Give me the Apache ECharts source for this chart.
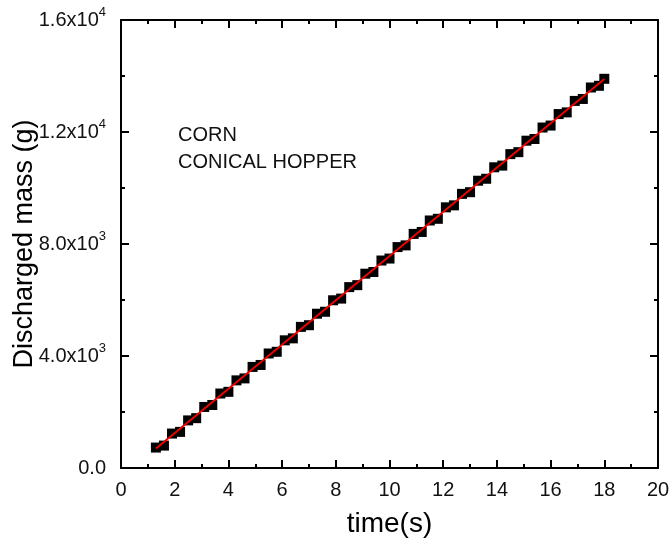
<!DOCTYPE html>
<html>
<head>
<meta charset="utf-8">
<script src="https://cdn.jsdelivr.net/npm/echarts@6/dist/echarts.min.js"></script>
<style>
  html, body { margin: 0; padding: 0; background: #fff; }
  #chart { width: 671px; height: 543px; }
</style>
</head>
<body>
<div id="chart"></div>
<script>
// measured points (time s, discharged mass g)
const timeVals = [1.3, 1.6, 1.9, 2.2, 2.5, 2.8, 3.1, 3.4, 3.7, 4.0, 4.3, 4.6, 4.9, 5.2, 5.5, 5.8,
  6.1, 6.4, 6.7, 7.0, 7.3, 7.6, 7.9, 8.2, 8.5, 8.8, 9.1, 9.4, 9.7, 10.0, 10.3, 10.6, 10.9, 11.2,
  11.5, 11.8, 12.1, 12.4, 12.7, 13.0, 13.3, 13.6, 13.9, 14.2, 14.5, 14.8, 15.1, 15.4, 15.7, 16.0,
  16.3, 16.6, 16.9, 17.2, 17.5, 17.8, 18.0];
const massVals = [730, 800, 1230, 1290, 1700, 1780, 2180, 2250, 2660, 2720, 3130, 3200, 3610, 3680,
  4090, 4150, 4560, 4630, 5040, 5100, 5510, 5580, 5990, 6050, 6460, 6530, 6940, 7000, 7410, 7480,
  7890, 7950, 8360, 8430, 8840, 8900, 9310, 9380, 9790, 9850, 10260, 10330, 10740, 10800, 11210,
  11280, 11690, 11750, 12160, 12230, 12640, 12700, 13110, 13180, 13590, 13650, 13900];

// linear fit end points
const fitTime = [1.3, 18.0];
const fitMass = [700, 13893];

// y tick labels
const yTickLabels = {
  0: '0.0',
  4000: '4.0x10{sup|3}',
  8000: '8.0x10{sup|3}',
  12000: '1.2x10{sup|4}',
  16000: '1.6x10{sup|4}'
};

const font = 'Arial, "Liberation Sans", sans-serif';
const chart = echarts.init(document.getElementById('chart'));

const axisCommon = {
  axisLine: { show: true, onZero: false, lineStyle: { color: '#000', width: 2 } },
  axisTick: { show: true, inside: true, length: 8, lineStyle: { color: '#000', width: 2 } },
  minorTick: { show: true, splitNumber: 2, length: 4, lineStyle: { color: '#000', width: 2 } },
  splitLine: { show: false }
};

const options = {
  animation: false,
  textStyle: { fontFamily: font },
  grid: { left: 121, top: 20, right: 13, bottom: 75, containLabel: false, outerBoundsMode: 'none' },
  xAxis: [
    {
      ...axisCommon,
      type: 'value',
      min: 0, max: 20, interval: 2,
      name: 'time(s)',
      nameLocation: 'middle',
      nameMoveOverlap: false,
      nameGap: 42,
      nameTextStyle: { fontSize: 28, color: '#000', fontFamily: font },
      axisLabel: { fontSize: 20, color: '#111', margin: 12 }
    },
    {
      ...axisCommon,
      type: 'value',
      position: 'top',
      min: 0, max: 20, interval: 2,
      axisLabel: { show: false }
    }
  ],
  yAxis: [
    {
      ...axisCommon,
      type: 'value',
      min: 0, max: 16000, interval: 4000,
      name: 'Discharged mass (g)',
      nameLocation: 'middle',
      nameMoveOverlap: false,
      nameGap: 83,
      nameTextStyle: { fontSize: 27, color: '#000', fontFamily: font },
      axisLabel: {
        fontSize: 20, color: '#111', margin: 15,
        formatter: function (v) { return yTickLabels[v] || ''; },
        rich: {
          sup: { fontSize: 13, color: '#111', verticalAlign: 'top', padding: [0, 0, 16, 0] }
        }
      }
    },
    {
      ...axisCommon,
      type: 'value',
      position: 'right',
      min: 0, max: 16000, interval: 4000,
      axisLabel: { show: false }
    }
  ],
  series: [
    {
      name: 'data',
      type: 'scatter',
      symbol: 'rect',
      symbolSize: 10,
      itemStyle: { color: '#000', opacity: 1 },
      data: timeVals.map((t, i) => [t, massVals[i]]),
      z: 2
    },
    {
      name: 'fit',
      type: 'line',
      showSymbol: false,
      lineStyle: { color: '#ee0000', width: 2 },
      data: fitTime.map((t, i) => [t, fitMass[i]]),
      z: 3
    }
  ],
  graphic: [
    {
      type: 'text', left: 178, top: 125,
      style: { text: 'CORN', font: '20px ' + font, fill: '#111' }
    },
    {
      type: 'text', left: 178, top: 152,
      style: { text: 'CONICAL HOPPER', font: '20px ' + font, fill: '#111' }
    }
  ]
};
options && chart.setOption(options);
</script>
</body>
</html>
